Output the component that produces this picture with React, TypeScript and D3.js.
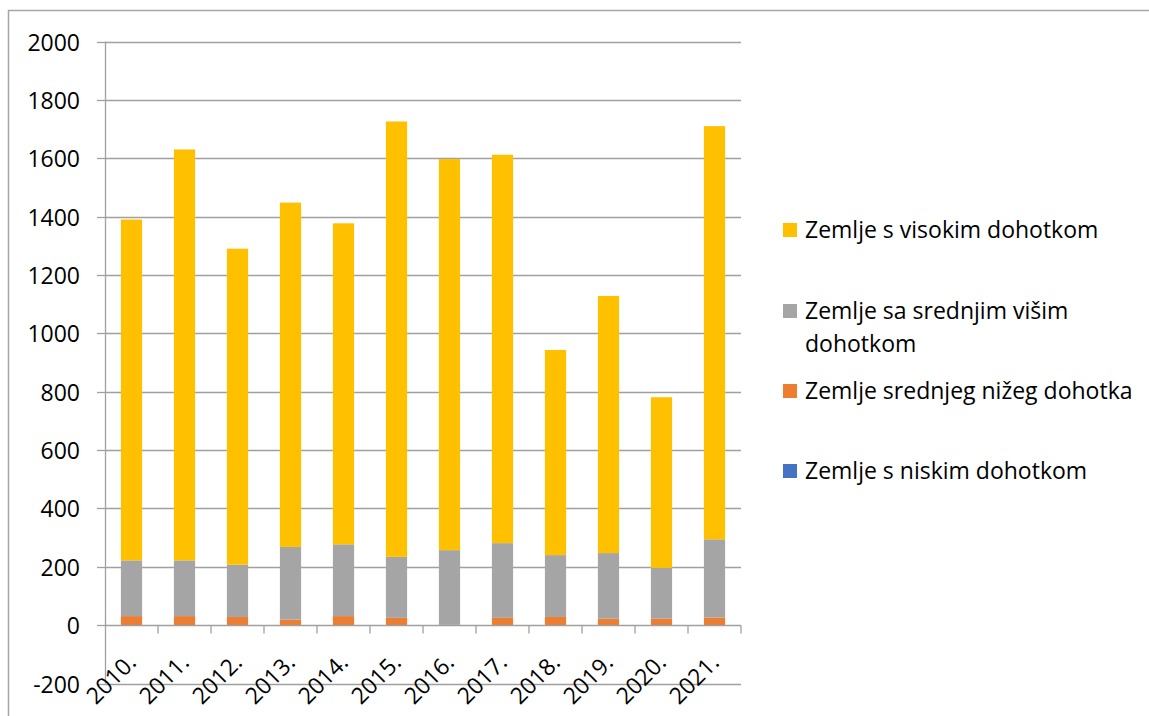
import React from "react";
import * as d3 from "d3";

const years = ["2010.", "2011.", "2012.", "2013.", "2014.", "2015.", "2016.", "2017.", "2018.", "2019.", "2020.", "2021."];
const lowIncome = [0, 0, 0, 0, 0, 0, 0, 0, 0, 0, 0, 0];
const lowerMiddleIncome = [31, 31, 28, 19, 31, 25, 1, 25, 28, 22, 22, 26];
const upperMiddleIncome = [191, 191, 179, 249, 246, 209, 256, 256, 212, 225, 174, 268];
const highIncome = [1168, 1408, 1083, 1180, 1100, 1492, 1340, 1331, 703, 881, 585, 1416];
const yTicks = [-200, 0, 200, 400, 600, 800, 1000, 1200, 1400, 1600, 1800, 2000];

const seriesKeys = ["low", "lowerMiddle", "upperMiddle", "high"];
const seriesColors = {
  low: "#4472C4",
  lowerMiddle: "#ED7D31",
  upperMiddle: "#A5A5A5",
  high: "#FFC000",
};
// legend goes top to bottom in reverse stack order
const legendItems = [
  { key: "high", lines: ["Zemlje s visokim dohotkom"] },
  { key: "upperMiddle", lines: ["Zemlje sa srednjim višim", "dohotkom"] },
  { key: "lowerMiddle", lines: ["Zemlje srednjeg nižeg dohotka"] },
  { key: "low", lines: ["Zemlje s niskim dohotkom"] },
];
const legendBaselines = [238, 319, 399, 479];

const font = "'Open Sans', Lato, sans-serif";
const fs = 23;

export default function App() {
  const width = 1149;
  const height = 716;
  const plot = { left: 105, right: 741, top: 41.5, bottom: 683.5 };

  const rows = years.map((year, i) => ({
    year,
    low: lowIncome[i],
    lowerMiddle: lowerMiddleIncome[i],
    upperMiddle: upperMiddleIncome[i],
    high: highIncome[i],
  }));
  const stacked = d3.stack().keys(seriesKeys)(rows);

  const x = d3.scaleBand().domain(years).range([plot.left, plot.right]).padding(0);
  const y = d3.scaleLinear().domain([-200, 2000]).range([plot.bottom, plot.top]);
  const barW = x.step() * 0.4;
  const zeroY = Math.round(y(0)) + 0.5;

  return (
    <svg
      width={width}
      height={height}
      style={{ position: "absolute", left: 0, top: 0, background: "#fff" }}
      fontFamily={font}
    >
      {/* chart border */}
      <rect x={8.5} y={10.5} width={width + 20} height={height + 20} fill="none" stroke="#a6a6a6" strokeWidth={1.5} />

      {/* gridlines + y ticks */}
      {yTicks.map((t) => {
        const yy = Math.round(y(t)) + 0.5;
        return (
          <g key={t}>
            {t !== 0 && (
              <line x1={plot.left} x2={plot.right} y1={yy} y2={yy} stroke="#a0a0a0" strokeWidth={1.3} />
            )}
            <line x1={97} x2={plot.left} y1={yy} y2={yy} stroke="#a0a0a0" strokeWidth={1.3} />
            <text x={80} y={yy} dy="0.36em" textAnchor="end" fontSize={fs} fill="#000">
              {t}
            </text>
          </g>
        );
      })}

      {/* bars */}
      {stacked.map((s) => (
        <g key={s.key} fill={seriesColors[s.key]}>
          {s.map((d, i) => {
            const y0 = y(d[0]);
            const y1 = y(d[1]);
            return (
              <rect
                key={i}
                x={x(years[i]) + (x.step() - barW) / 2}
                y={Math.min(y0, y1)}
                width={barW}
                height={Math.abs(y0 - y1)}
              />
            );
          })}
        </g>
      ))}

      {/* y axis line */}
      <line x1={plot.left + 0.5} x2={plot.left + 0.5} y1={plot.top} y2={plot.bottom} stroke="#a0a0a0" strokeWidth={1.3} />

      {/* category axis at zero */}
      <line x1={plot.left} x2={plot.right} y1={zeroY} y2={zeroY} stroke="#a0a0a0" strokeWidth={1.3} />
      {years.map((yr, i) => (
        <line
          key={"t" + yr}
          x1={plot.left + (i + 1) * x.step()}
          x2={plot.left + (i + 1) * x.step()}
          y1={zeroY}
          y2={zeroY + 8}
          stroke="#a0a0a0"
          strokeWidth={1.3}
        />
      ))}
      {years.map((yr) => {
        const cx = x(yr) + x.step() / 2 + 6;
        return (
          <text
            key={"l" + yr}
            transform={`translate(${cx},664) rotate(-45)`}
            textAnchor="end"
            fontSize={fs}
            fill="#000"
          >
            {yr}
          </text>
        );
      })}

      {/* legend */}
      {legendItems.map((item, i) => (
        <g key={item.key}>
          <rect x={783} y={legendBaselines[i] - 15} width={14} height={14} fill={seriesColors[item.key]} />
          {item.lines.map((ln, j) => (
            <text key={j} x={805} y={legendBaselines[i] + j * 33} fontSize={fs} fill="#000">
              {ln}
            </text>
          ))}
        </g>
      ))}
    </svg>
  );
}
